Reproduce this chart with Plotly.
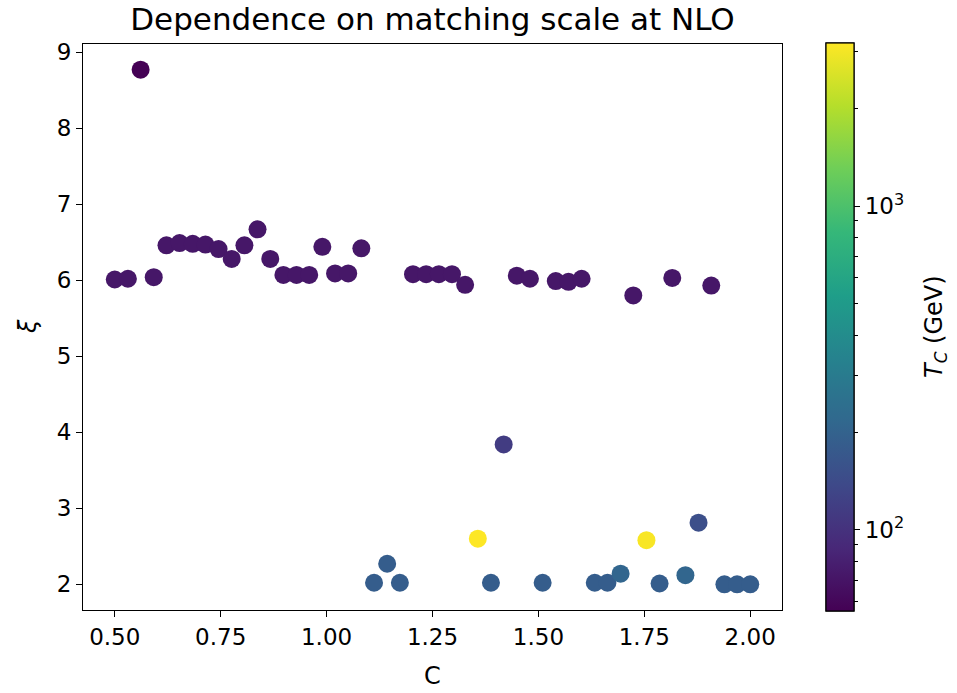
import plotly.graph_objects as go
import numpy as np

# ---- data ----
C = [0.500, 0.531, 0.561, 0.592, 0.622, 0.653, 0.684, 0.714, 0.745, 0.776,
     0.806, 0.837, 0.867, 0.898, 0.929, 0.959, 0.990, 1.020, 1.051, 1.082,
     1.112, 1.143, 1.173, 1.204, 1.235, 1.265, 1.296, 1.327, 1.357, 1.388,
     1.418, 1.449, 1.480, 1.510, 1.541, 1.571, 1.602, 1.633, 1.663, 1.694,
     1.724, 1.755, 1.786, 1.816, 1.847, 1.878, 1.908, 1.939, 1.969, 2.000]

xi = [6.01, 6.02, 8.77, 6.04, 6.46, 6.49, 6.48, 6.47, 6.41, 6.28,
      6.46, 6.67, 6.28, 6.07, 6.07, 6.07, 6.44, 6.09, 6.09, 6.42,
      2.02, 2.27, 2.02, 6.08, 6.08, 6.08, 6.08, 5.94, 2.60, 2.02,
      3.84, 6.06, 6.02, 2.02, 5.99, 5.98, 6.02, 2.02, 2.02, 2.14,
      5.80, 2.58, 2.01, 6.03, 2.12, 2.81, 5.93, 2.00, 2.00, 2.00]

Tc = [72, 72, 56.2, 72, 72, 72, 72, 72, 72, 72,
      72, 72, 72, 72, 72, 72, 72, 72, 72, 72,
      185, 185, 185, 72, 72, 72, 72, 72, 3190, 185,
      116, 72, 72, 185, 72, 72, 72, 185, 185, 210,
      72, 3100, 185, 72, 210, 150, 72, 185, 185, 185]

x_ticks = [0.50, 0.75, 1.00, 1.25, 1.50, 1.75, 2.00]
y_ticks = [2, 3, 4, 5, 6, 7, 8, 9]
cbar_major = [100, 1000]
cbar_major_text = ["10<sup>2</sup>", "10<sup>3</sup>"]
cbar_minor = [60, 70, 80, 90, 200, 300, 400, 500, 600, 700, 800, 900, 2000, 3000]

# ---- styling ----
FONT = "DejaVu Sans"
TICK_SIZE = 23
W, H = 957, 693
L, R, T, B = 83, 175, 44, 83
pw, ph = W - L - R, H - T - B

logT = np.log10(Tc)
cmin, cmax = float(np.log10(min(Tc))), float(np.log10(max(Tc)))

cb_common = dict(
    thickness=28, thicknessmode="pixels",
    len=ph + 2, lenmode="pixels",
    x=(826 - L) / pw, xanchor="left", xpad=0,
    y=0.5, yanchor="middle", ypad=0,
    outlinewidth=1.2, outlinecolor="black",
    ticks="outside", tickcolor="black", tickwidth=1.2,
    tickfont=dict(family=FONT, size=TICK_SIZE, color="black"),
)

fig = go.Figure()

# minor ticks colourbar (drawn first, underneath)
fig.add_trace(go.Scatter(
    x=[C[0]], y=[xi[0]], mode="markers", hoverinfo="skip", showlegend=False,
    marker=dict(size=0.1, opacity=0, color=[logT[0]], colorscale="Viridis",
                cmin=cmin, cmax=cmax, showscale=True,
                colorbar=dict(**cb_common, ticklen=3.5, showticklabels=False,
                              tickvals=list(np.log10(cbar_minor)))),
))

fig.add_trace(go.Scatter(
    x=C, y=xi, mode="markers", showlegend=False,
    marker=dict(size=18, color=logT, colorscale="Viridis", cmin=cmin, cmax=cmax,
                line=dict(width=0), showscale=True,
                colorbar=dict(**cb_common, ticklen=6,
                              tickvals=list(np.log10(cbar_major)),
                              ticktext=cbar_major_text)),
))

axis_common = dict(
    showline=True, linecolor="black", linewidth=1.2, mirror=True,
    ticks="outside", ticklen=6, tickwidth=1.2, tickcolor="black",
    showgrid=False, zeroline=False,
    tickfont=dict(family=FONT, size=TICK_SIZE, color="black"),
)

fig.update_xaxes(**axis_common, range=[0.425, 2.075],
                 tickvals=x_ticks, ticktext=[f"{v:.2f}" for v in x_ticks])
fig.update_yaxes(**axis_common, range=[1.6615, 9.1085], tickvals=y_ticks)

fig.update_layout(
    width=W, height=H,
    margin=dict(l=L, r=R, t=T, b=B, autoexpand=False),
    plot_bgcolor="white", paper_bgcolor="white",
    font=dict(family=FONT, color="black"),
    title=dict(text="Dependence on matching scale at NLO",
               x=(L + pw / 2) / W, xanchor="center",
               y=1 - 19 / H, yanchor="middle",
               font=dict(family=FONT, size=31, color="black")),
    annotations=[
        dict(text="C", xref="paper", yref="paper", x=0.5, y=-(676 - (T + ph)) / ph,
             xanchor="center", yanchor="middle", showarrow=False,
             font=dict(family=FONT, size=TICK_SIZE + 1, color="black")),
        dict(text="<i>ξ</i>", xref="paper", yref="paper", x=(28 - L) / pw, y=0.5,
             xanchor="center", yanchor="middle", showarrow=False, textangle=-90,
             font=dict(family=FONT, size=TICK_SIZE + 1, color="black")),
        dict(text="<i>T</i><sub><i>C</i></sub> (GeV)", xref="paper", yref="paper",
             x=(935 - L) / pw, y=0.5, xanchor="center", yanchor="middle",
             showarrow=False, textangle=-90,
             font=dict(family=FONT, size=TICK_SIZE + 1, color="black")),
    ],
)

fig.write_html("out.html")
